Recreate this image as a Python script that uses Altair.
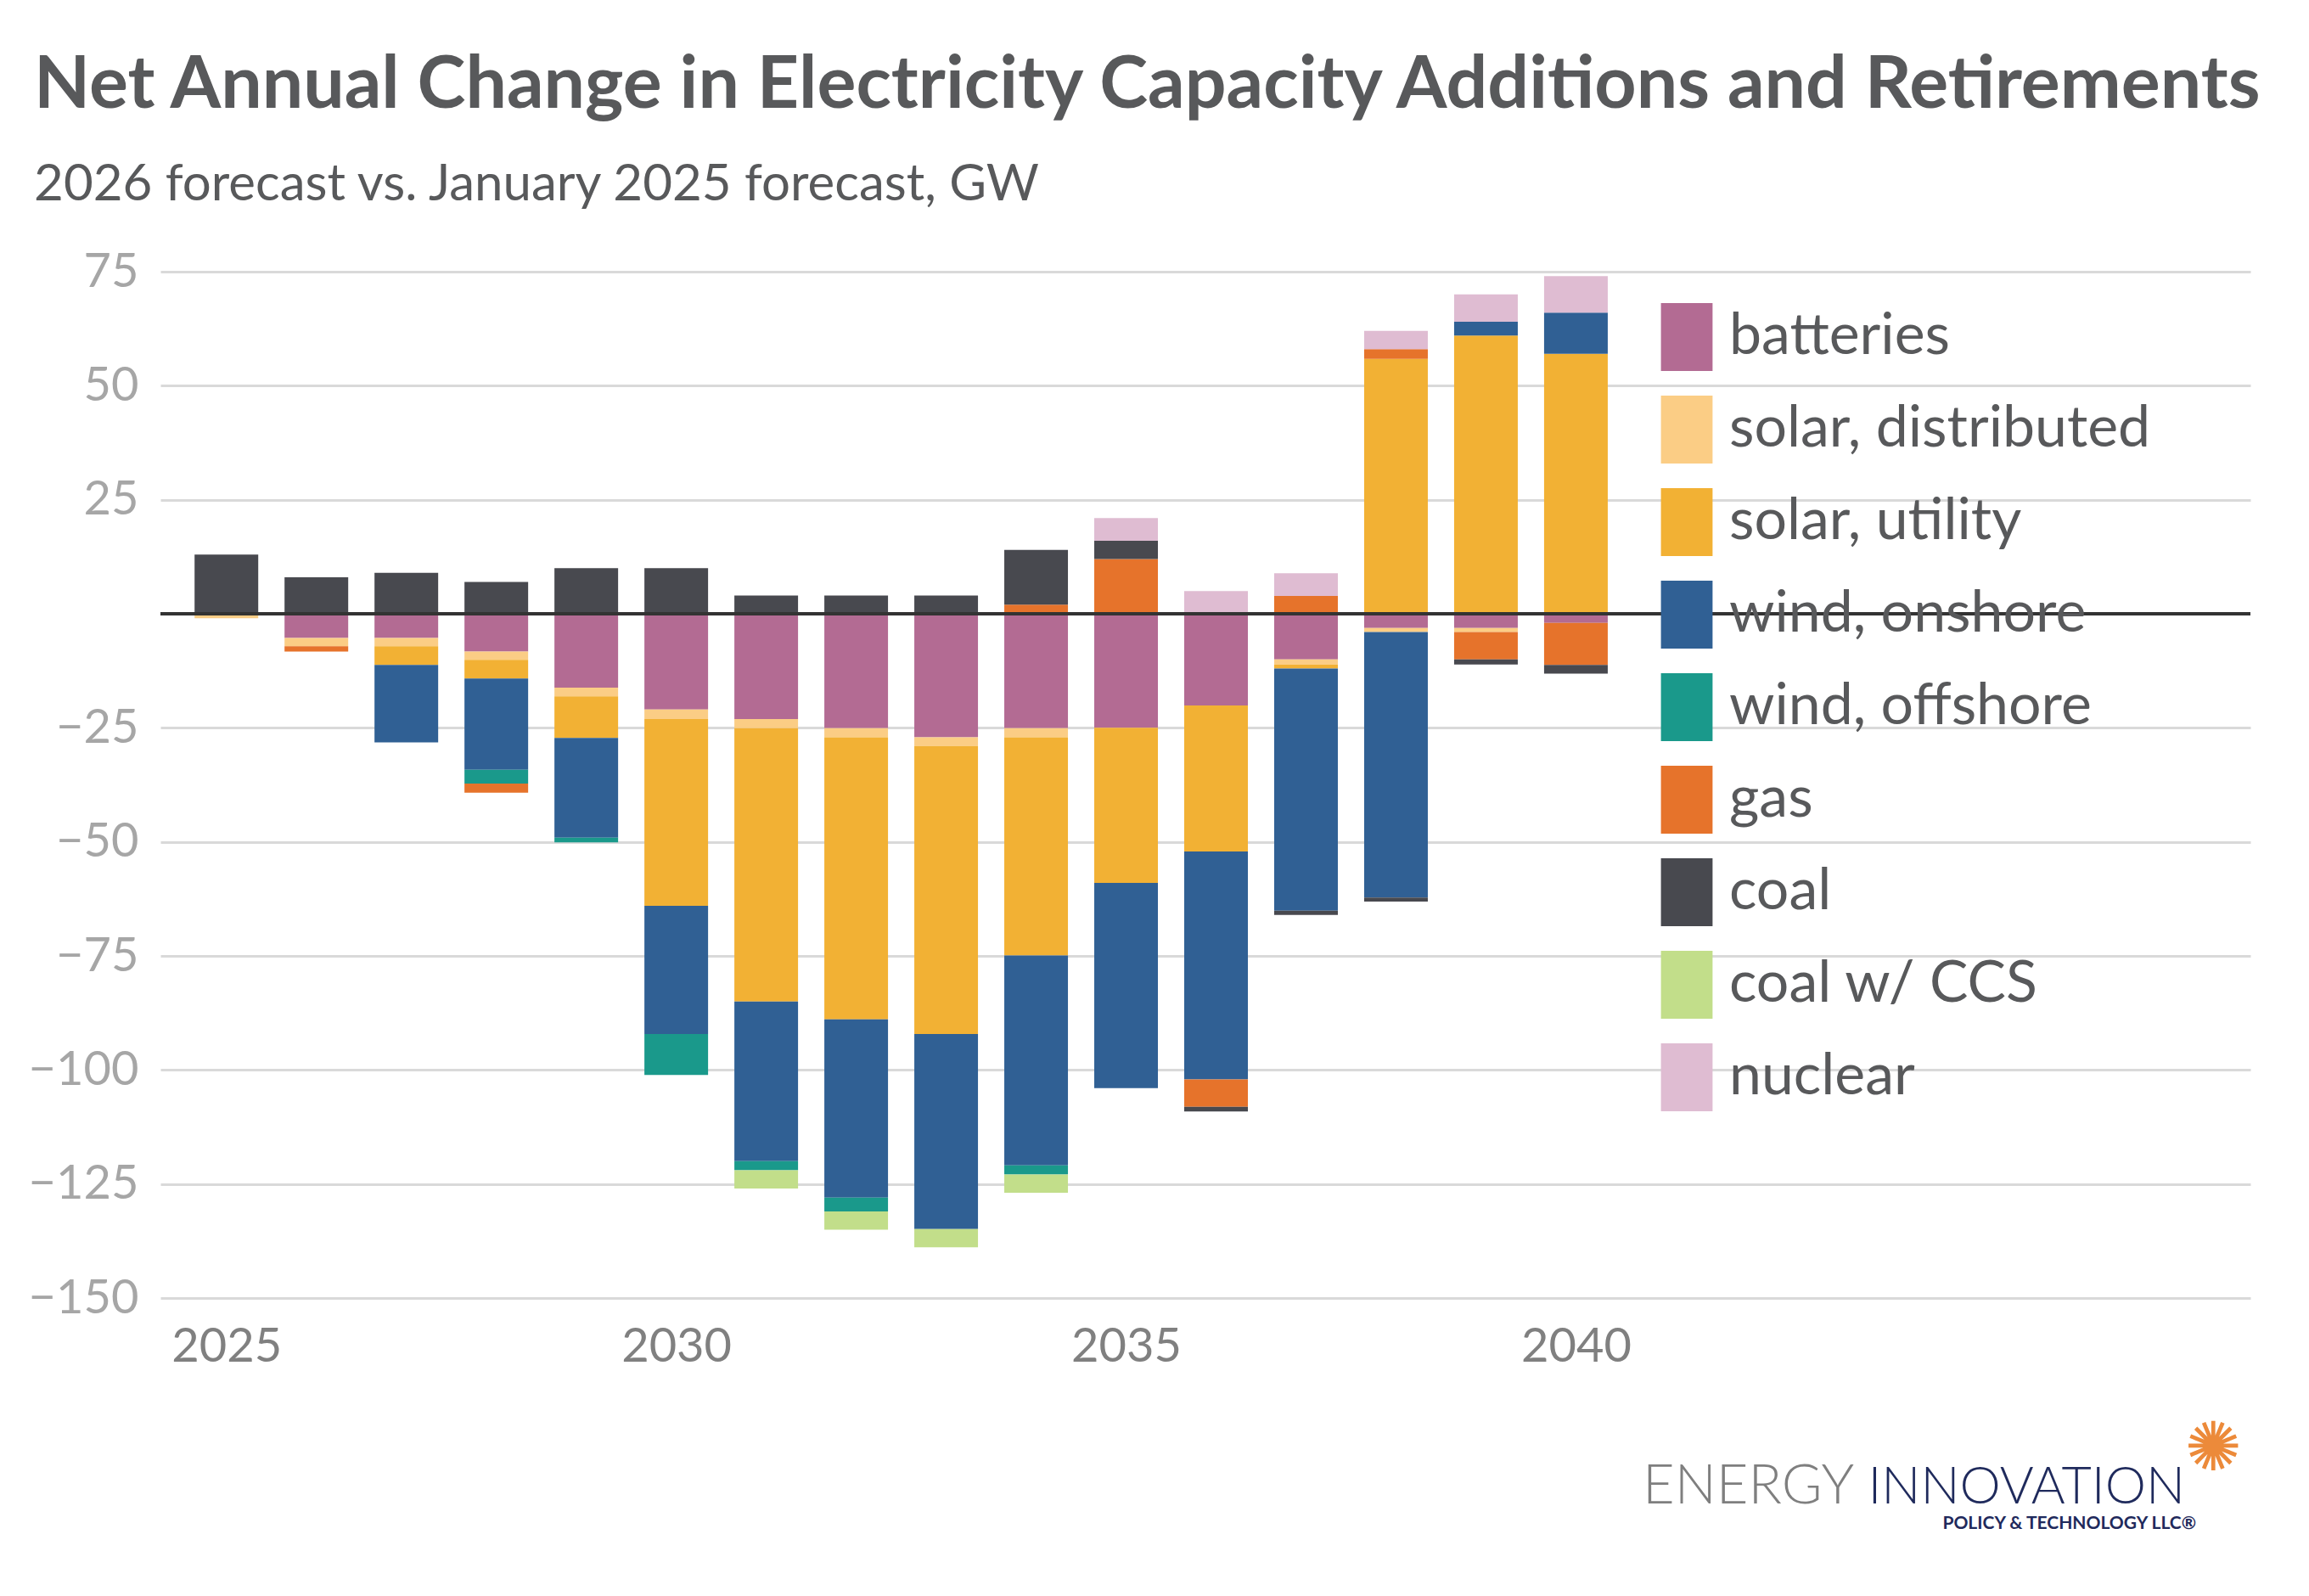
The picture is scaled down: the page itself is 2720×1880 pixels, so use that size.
import altair as alt
import pandas as pd

years = list(range(2025, 2041))
categories = ["batteries", "solar, distributed", "solar, utility", "wind, onshore",
              "wind, offshore", "gas", "coal", "coal w/ CCS", "nuclear"]
colors = ["#b36b93", "#fbcd85", "#f2b134", "#306094", "#1a998b",
          "#e6732b", "#48494f", "#c2de8a", "#dfbcd2"]

batteries = [0, -5.3, -5.3, -8.3, -16.2, -21.0, -23.1, -25.1, -27.1, -25.1, -25.0, -20.1, -10.0, -3.1, -3.1, -2.0]
solar_distributed = [-1.0, -1.8, -1.8, -1.8, -1.9, -2.1, -2.0, -2.0, -1.9, -2.0, 0, 0, -1.1, -0.9, -0.9, 0]
solar_utility = [0, 0, -4.1, -4.1, -9.1, -40.9, -59.9, -61.8, -63.1, -47.8, -34.0, -32.0, -0.9, 55.9, 61.0, 57.0]
wind_onshore = [0, 0, -17.0, -20.0, -21.9, -28.1, -35.0, -39.1, -42.8, -46.0, -45.0, -50.0, -53.1, -58.2, 3.0, 9.0]
wind_offshore = [0, 0, 0, -3.0, -1.0, -9.0, -2.0, -3.0, 0, -2.0, 0, 0, 0, 0, 0, 0]
gas = [0, -1.2, 0, -2.0, 0, 0, 0, 0, 0, 2.0, 12.0, -6.0, 3.9, 2.1, -6.0, -9.2]
coal = [13, 8, 9, 7, 10, 10, 4, 4, 4, 12, 4, -1.0, -0.9, -0.9, -1.1, -1.9]
coal_ccs = [0, 0, 0, 0, 0, 0, -4, -4, -4, -4, 0, 0, 0, 0, 0, 0]
nuclear = [0, 0, 0, 0, 0, 0, 0, 0, 0, 0, 5, 5, 5, 4, 6, 8]

y_ticks = [-150, -125, -100, -75, -50, -25, 25, 50, 75]
x_ticks = [2025, 2030, 2035, 2040]

title_text = "Net Annual Change in Electricity Capacity Additions and Retirements"
subtitle_text = "2026 forecast vs. January 2025 forecast, GW"
logo_words = ["ENERGY", "INNOVATION", "POLICY & TECHNOLOGY LLC®", "✺"]

series = [batteries, solar_distributed, solar_utility, wind_onshore, wind_offshore,
          gas, coal, coal_ccs, nuclear]
rows = []
for idx, (cat, vals) in enumerate(zip(categories, series)):
    for yr, v in zip(years, vals):
        if v != 0:
            rows.append({"year": yr, "category": cat, "value": v, "idx": idx})
df = pd.DataFrame(rows)

FONT = "Lato"
x_scale = alt.Scale(domain=[2024.314, 2047.45], nice=False, zero=False)
y_scale = alt.Scale(domain=[-150, 75], nice=False)

bars = alt.Chart(df).mark_bar(size=75).encode(
    x=alt.X("year:Q", scale=x_scale,
            axis=alt.Axis(values=x_ticks, format="d", title=None, grid=False, domain=False,
                          ticks=False, labelFont=FONT, labelFontSize=56, labelColor="#808080",
                          labelPadding=30, labelFlush=False)),
    y=alt.Y("value:Q", stack="zero", scale=y_scale,
            axis=alt.Axis(values=y_ticks, title=None, domain=False, ticks=False,
                          labelFont=FONT, labelFontSize=56, labelColor="#a6a6a6",
                          labelPadding=26, grid=True, gridColor="#d9d9d9", gridWidth=3)),
    color=alt.Color("category:N",
                    scale=alt.Scale(domain=categories, range=colors),
                    legend=alt.Legend(title=None, orient="none", legendX=1758, legendY=37,
                                      symbolType="M-0.76,-1H0.76V1H-0.76Z",
                                      symbolSize=6400, symbolStrokeWidth=0, symbolOpacity=1,
                                      labelFont=FONT, labelFontSize=68, labelColor="#58595b",
                                      labelOffset=10, rowPadding=29, padding=0, labelLimit=0)),
    order=alt.Order("idx:Q", sort="ascending"),
)

zero_rule = alt.Chart(pd.DataFrame({"y": [0]})).mark_rule(color="#333333", strokeWidth=4).encode(
    y=alt.Y("y:Q", scale=y_scale)
)

energy = alt.Chart(pd.DataFrame({"t": [logo_words[0]]})).mark_text(
    align="left", baseline="alphabetic", font=FONT, fontSize=65, fontWeight=300, color="#7f7f7f"
).encode(text="t:N", x=alt.value(1746), y=alt.value(1451))

innov = alt.Chart(pd.DataFrame({"t": [logo_words[1]]})).mark_text(
    align="right", baseline="alphabetic", font=FONT, fontSize=61, fontWeight=300, color="#1f2a5c"
).encode(text="t:N", x=alt.value(2385), y=alt.value(1451))

policy = alt.Chart(pd.DataFrame({"t": [logo_words[2]]})).mark_text(
    align="right", baseline="alphabetic", font=FONT, fontSize=21, fontWeight="bold", color="#1f2a5c"
).encode(text="t:N", x=alt.value(2398), y=alt.value(1481))

burst = alt.Chart(pd.DataFrame({"t": [logo_words[3]]})).mark_text(
    align="center", baseline="middle", font="DejaVu Sans", fontSize=80, color="#ec8a3a"
).encode(text="t:N", x=alt.value(2418), y=alt.value(1388))

chart = alt.layer(bars, zero_rule, energy, innov, policy, burst).properties(
    width=2462, height=1209,
    padding={"left": 25, "top": 50, "right": 20, "bottom": 20},
    title=alt.TitleParams(text=title_text, subtitle=subtitle_text, anchor="start", dx=7,
                          font=FONT, fontSize=86, fontWeight="bold", color="#58595b",
                          subtitleFont=FONT, subtitleFontSize=60, subtitleColor="#58595b",
                          subtitlePadding=44, offset=43),
).configure(background="white").configure_view(strokeWidth=0)

chart.save("out.html", embed_options={"renderer": "svg", "actions": False})
